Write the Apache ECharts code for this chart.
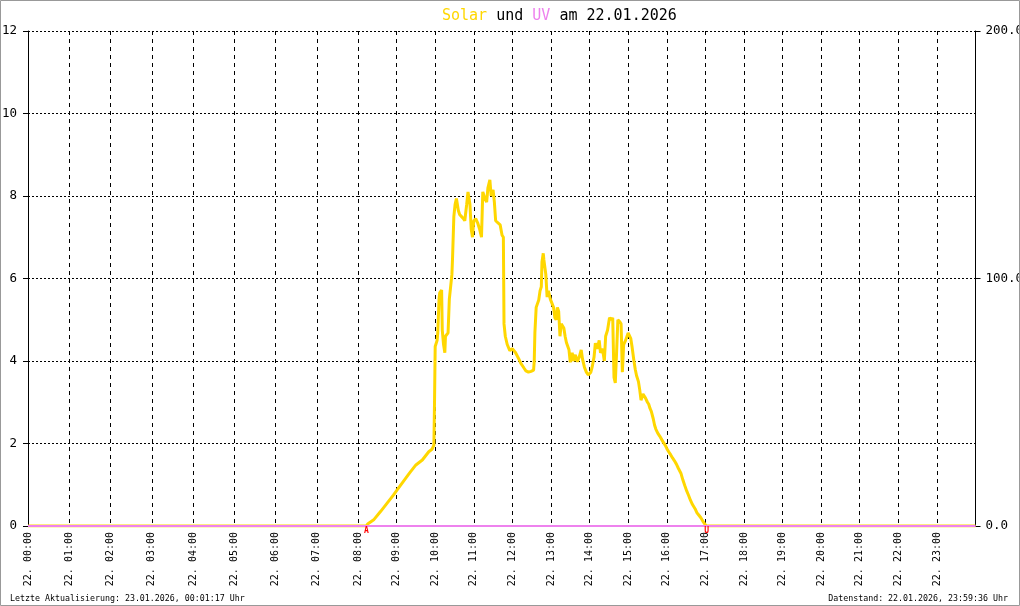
<!DOCTYPE html>
<html>
<head>
<meta charset="utf-8">
<script src="https://cdn.jsdelivr.net/npm/echarts@6/dist/echarts.min.js"></script>
<style>
html,body{margin:0;padding:0;background:#fff;}
#chart{width:1020px;height:606px;}
</style>
</head>
<body>
<div id="chart"></div>
<script>
// ---------- DATA ----------
const hourLabels = ['22. 00:00','22. 01:00','22. 02:00','22. 03:00','22. 04:00','22. 05:00','22. 06:00','22. 07:00',
  '22. 08:00','22. 09:00','22. 10:00','22. 11:00','22. 12:00','22. 13:00','22. 14:00','22. 15:00',
  '22. 16:00','22. 17:00','22. 18:00','22. 19:00','22. 20:00','22. 21:00','22. 22:00','22. 23:00'];
const leftTicks = [0, 2, 4, 6, 8, 10, 12];
const rightTicks = [0, 100, 200];

const solarTimes = ['00:00','08:00','08:13','08:15','08:25','08:35','08:45','08:55','09:00','09:10','09:20','09:30','09:40','09:50','09:55','09:58','09:59',
 '10:00','10:03','10:04','10:06','10:07','10:10','10:11','10:13','10:15','10:16','10:20','10:22','10:26','10:27','10:29','10:31','10:33','10:36','10:38','10:41','10:44','10:46','10:49','10:51','10:54','10:56','10:58',
 '11:00','11:03','11:06','11:09','11:12','11:14','11:17','11:20','11:22','11:25','11:27','11:30','11:32','11:34','11:37','11:41','11:44','11:46','11:47','11:49','11:52','11:56',
 '12:00','12:05','12:10','12:13','12:18','12:21','12:25','12:29','12:33','12:34','12:35','12:37','12:41','12:43','12:45','12:46','12:48','12:49','12:52','12:54','12:56','12:59',
 '13:02','13:04','13:06','13:08','13:10','13:12','13:14','13:16','13:20','13:22','13:24','13:28','13:30','13:33','13:35','13:38','13:41','13:44','13:47','13:49','13:52','13:55','13:58',
 '14:02','14:04','14:07','14:09','14:12','14:15','14:17','14:20','14:23','14:25','14:28','14:31','14:34','14:36','14:38','14:40','14:42','14:44','14:47','14:49','14:51','14:53','14:56',
 '15:00','15:02','15:04','15:06','15:09','15:11','15:13','15:16','15:18','15:20','15:23','15:25','15:27','15:30','15:32','15:34','15:36','15:39','15:41','15:43','15:46','15:49','15:52','15:55','15:58',
 '16:00','16:03','16:06','16:09','16:12','16:15','16:18','16:22','16:25','16:28','16:31','16:34','16:37','16:40','16:44','16:47','16:50','16:53','16:56','16:59','17:02','24:00'];
const solarValues = [0,0,0,0.05,0.16,0.35,0.55,0.75,0.86,1.07,1.28,1.48,1.6,1.8,1.86,1.96,3.05,
 4.35,4.5,4.68,5.5,5.65,5.72,4.75,4.4,4.2,4.6,4.68,5.5,6.1,6.5,7.5,7.8,7.94,7.65,7.55,7.5,7.45,7.4,7.8,8.1,7.8,7.2,7.0,
 7.4,7.45,7.35,7.2,7.0,8.1,7.95,7.85,8.2,8.39,8.0,8.15,7.85,7.4,7.4,7.3,7.05,7.0,4.9,4.6,4.4,4.25,
 4.3,4.2,4.05,3.95,3.83,3.76,3.73,3.75,3.78,4.0,4.68,5.3,5.48,5.7,5.8,6.4,6.61,6.45,6.1,5.55,5.7,5.5,
 5.5,5.3,5.05,5.0,5.3,5.2,4.6,4.9,4.8,4.6,4.45,4.27,3.97,4.2,4.0,4.15,3.98,4.1,4.27,4.05,3.85,3.73,3.66,
 3.73,3.85,4.1,4.43,4.3,4.5,4.2,4.3,4.0,4.6,4.75,5.05,5.0,5.05,3.6,3.47,4.2,5.0,4.95,4.9,3.73,4.4,4.5,
 4.68,4.65,4.55,4.35,4.0,3.8,3.65,3.5,3.3,3.05,3.2,3.15,3.1,3.0,2.95,2.85,2.78,2.6,2.45,2.35,2.25,2.18,2.1,2.02,1.95,
 1.88,1.8,1.73,1.65,1.58,1.5,1.4,1.28,1.12,0.98,0.85,0.74,0.62,0.52,0.42,0.32,0.26,0.2,0.12,0.05,0,0];

const uvTimes = ['00:00','08:00','24:00'];
const uvValues = [0, 0, 0];

const markerTimes = ['08:13', '17:02'];
const markerLabels = ['A', 'U'];

// ---------- BUILD ----------
function toHours(s){ const p = s.split(':'); return +p[0] + (+p[1]) / 60; }
function pairs(times, vals){ return times.map((t,i)=>[toHours(t), vals[i]]); }
const solarAll = pairs(solarTimes, solarValues);
const uvAll = pairs(uvTimes, uvValues);
const solarA = solarAll.filter(p => p[0] <= 8), solarB = solarAll.filter(p => p[0] >= 8);
const uvA = uvAll.filter(p => p[0] <= 8), uvB = uvAll.filter(p => p[0] >= 8);

const MONO = '"DejaVu Sans Mono", monospace';
const vDash = { show: true, lineStyle: { color: '#000', width: 1, type: [4, 4] } };
const hDash = { show: true, lineStyle: { color: '#000', width: 1, type: [2, 2] } };
const xLabel = { rotate: 90, margin: 6, fontFamily: MONO, fontSize: 10, color: '#000',
  showMaxLabel: false, formatter: v => hourLabels[v] || '' };

const chart = echarts.init(document.getElementById('chart'), null, { renderer: 'canvas' });
chart.setOption({
  animation: false,
  backgroundColor: '#fff',
  title: {
    text: '{s|Solar} und {u|UV} am 22.01.2026',
    left: 442, top: 9, padding: 0,
    textStyle: { fontFamily: MONO, fontSize: 15, fontWeight: 'normal', color: '#000',
      rich: { s: { color: '#FFD700', fontFamily: MONO, fontSize: 15 }, u: { color: '#EE82EE', fontFamily: MONO, fontSize: 15 } } }
  },
  grid: [
    { left: 28, top: 31, width: 330, height: 495, outerBoundsMode: 'none', containLabel: false },
    { left: 358, top: 31, width: 617.5, height: 495, outerBoundsMode: 'none', containLabel: false }
  ],
  xAxis: [
    { type: 'value', gridIndex: 0, min: 0, max: 8, interval: 1,
      axisLine: { show: true, lineStyle: { color: '#000' } }, axisTick: { show: false },
      splitLine: vDash, axisLabel: xLabel },
    { type: 'value', gridIndex: 1, min: 8, max: 24, interval: 1,
      axisLine: { show: true, lineStyle: { color: '#000' } }, axisTick: { show: false },
      splitLine: vDash, axisLabel: xLabel }
  ],
  yAxis: [
    { type: 'value', gridIndex: 0, position: 'left', min: 0, max: 12, interval: 2,
      axisLine: { show: true, lineStyle: { color: '#000' } },
      axisTick: { show: true, length: 5, lineStyle: { color: '#000' } },
      splitLine: hDash,
      axisLabel: { margin: 11, fontFamily: MONO, fontSize: 12.5, color: '#000',
        formatter: v => leftTicks.indexOf(v) >= 0 ? String(v) : '' } },
    { type: 'value', gridIndex: 1, position: 'left', min: 0, max: 12, interval: 2,
      axisLine: { show: false }, axisTick: { show: false }, axisLabel: { show: false },
      splitLine: hDash },
    { type: 'value', gridIndex: 1, position: 'right', min: 0, max: 200, interval: 100,
      axisLine: { show: true, lineStyle: { color: '#000' } },
      axisTick: { show: true, length: 5, lineStyle: { color: '#000' } },
      splitLine: { show: false },
      axisLabel: { margin: 10, fontFamily: MONO, fontSize: 12.5, color: '#000',
        formatter: v => rightTicks.indexOf(v) >= 0 ? v.toFixed(1) : '' } }
  ],
  series: [
    { name: 'Solar', type: 'line', xAxisIndex: 0, yAxisIndex: 0, data: solarA, showSymbol: false, z: 3,
      lineStyle: { color: '#FFD700', width: 3 } },
    { name: 'UV', type: 'line', xAxisIndex: 0, yAxisIndex: 0, data: uvA, showSymbol: false, z: 4,
      lineStyle: { color: '#EE82EE', width: 2 } },
    { name: 'Solar', type: 'line', xAxisIndex: 1, yAxisIndex: 1, data: solarB, showSymbol: false, z: 3,
      lineStyle: { color: '#FFD700', width: 3 },
      markPoint: {
        symbol: 'rect', symbolSize: 1, itemStyle: { color: 'rgba(0,0,0,0)' },
        label: { show: true, formatter: p => p.name, color: '#FF0000', fontFamily: MONO, fontSize: 8, fontWeight: 'bold', offset: [0, 5] },
        data: markerTimes.map((t, i) => ({ name: markerLabels[i], coord: [toHours(t), 0] }))
      } },
    { name: 'UV', type: 'line', xAxisIndex: 1, yAxisIndex: 1, data: uvB, showSymbol: false, z: 4,
      lineStyle: { color: '#EE82EE', width: 2 } }
  ],
  graphic: [
    { type: 'rect', shape: { x: 0.5, y: 0.5, width: 1019, height: 605 }, style: { fill: 'none', stroke: '#999', lineWidth: 1 }, z: 100 },
    { type: 'text', left: 10, top: 595, style: { text: 'Letzte Aktualisierung: 23.01.2026, 00:01:17 Uhr', font: '8.3px "DejaVu Sans Mono"', fill: '#000' } },
    { type: 'text', right: 12, top: 595, style: { text: 'Datenstand: 22.01.2026, 23:59:36 Uhr', font: '8.3px "DejaVu Sans Mono"', fill: '#000' } }
  ]
});
</script>
</body>
</html>
